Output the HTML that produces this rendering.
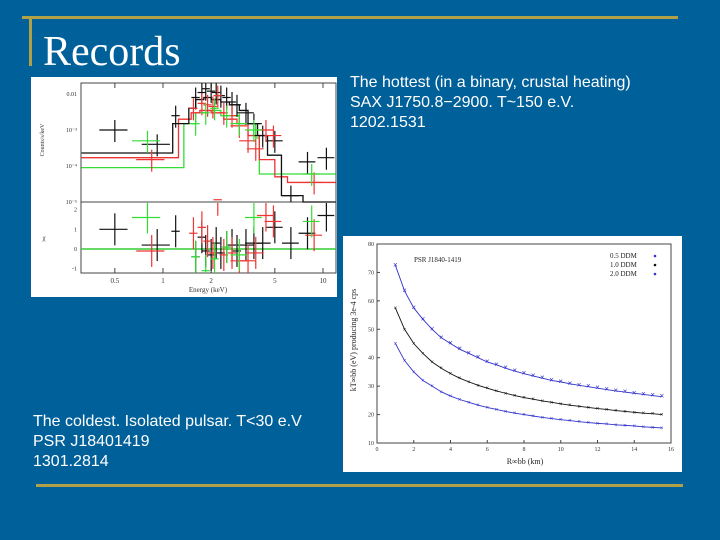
<!DOCTYPE html>
<html><head><meta charset="utf-8"><style>
body{margin:0;width:720px;height:540px;background:#00609a;position:relative;overflow:hidden;font-family:"Liberation Sans",sans-serif}
.t{position:absolute;color:#fff;font-size:16px;line-height:20px}
</style></head><body>
<div style="position:absolute;left:22px;top:16px;width:656px;height:3px;background:#b0a048"></div>
<div style="position:absolute;left:29px;top:16px;width:3px;height:50px;background:#b0a048"></div>
<div style="position:absolute;left:36px;top:484px;width:647px;height:3px;background:#b0a048"></div>
<div style="position:absolute;left:43px;top:28px;color:#fff;font-family:'Liberation Serif',serif;font-size:42px;line-height:48px">Records</div>
<div class="t" style="left:350px;top:73px">The hottest (in a binary, crustal heating)<br>SAX J1750.8−2900. T~150 e.V.<br>1202.1531</div>
<div class="t" style="left:33px;top:412px">The coldest. Isolated pulsar. T&lt;30 e.V<br>PSR J18401419<br>1301.2814</div>

<svg id="s1" style="position:absolute;left:0;top:0" width="720" height="540"></svg>
<script>
// spectrum data
const blkE=[0.5,0.92,1.2,1.6,1.75,1.85,2.0,2.15,2.3,2.5,2.7,2.9,3.3,3.7,4.2,5.0,6.3,8.0,10.5];
const blkC=[1e-3,4e-4,2.5e-3,8e-3,1.1e-2,1.4e-2,1.2e-2,1.1e-2,9e-3,8e-3,6e-3,5e-3,3e-3,1.5e-3,7e-4,5e-4,1.5e-5,1.3e-4,1.7e-4];
const blkX=[1,0.2,0.9,-0.4,0.6,-0.1,-0.3,0.3,-0.2,0.1,0.2,-0.1,0.2,0.3,0.3,1.1,0.3,0.8,1.7];
const redE=[0.85,1.55,1.75,1.9,2.05,2.2,2.4,2.7,3.0,3.4,3.8,4.4,4.9,8.8];
const redC=[1.5e-4,4e-3,5.5e-3,5e-3,4.5e-3,9e-3,3e-3,2.5e-3,1.3e-3,5e-4,3e-4,1e-3,7e-4,3.5e-5];
const redX=[-0.1,0.8,1.1,0.4,-0.2,2.5,-0.3,-0.2,-0.6,-0.6,-0.2,1.7,1.4,0.7];
const grnE=[0.8,1.6,1.85,2.1,2.5,3.0,3.7,8.5];
const grnC=[5e-4,1.5e-3,3e-3,4e-3,2.5e-3,1.5e-3,1e-3,6e-5];
const grnX=[1.6,-0.4,-1.1,-0.5,0.1,-0.3,1.6,1.4];
// step models
const blkME=[0.31,1.15,1.45,1.6,1.8,2.0,2.3,2.6,3.0,3.4,3.9,4.5,5.5,7.5,12];
const blkMV=[2.3e-4,1.5e-3,4e-3,7e-3,8e-3,7e-3,6e-3,5e-3,3.5e-3,1.5e-3,7e-4,2e-4,1.5e-5,1e-5];
const redME=[0.31,1.25,1.5,1.7,2.0,2.4,2.9,3.4,4.0,5.0,6.0,12];
const redMV=[1.7e-4,2e-3,3e-3,3.5e-3,3e-3,2e-3,1.5e-3,7e-4,1.5e-4,5e-5,3.5e-5];
const grnME=[0.31,1.35,1.6,1.9,2.3,3.0,3.8,4.0,12];
const grnMV=[9e-5,1.5e-3,3e-3,3.5e-3,2.5e-3,1.5e-3,6e-4,6e-5];
const eTicks=[0.5,1,2,5,10];
const cTicks=[0.01,1e-3,1e-4,1e-5];
const cTickLbl=["0.01","10⁻³","10⁻⁴","10⁻⁵"];
const xTicks=[2,1,0,-1];
// temperature data
const tempR=[1,1.5,2,2.5,3,3.5,4,4.5,5,5.5,6,6.5,7,7.5,8,8.5,9,9.5,10,10.5,11,11.5,12,12.5,13,13.5,14,14.5,15,15.5];
const t05=[72.5,63.5,57.5,53.5,50,47,45,43,41.5,40,38.5,37.5,36.3,35.3,34.4,33.6,32.8,32,31.5,30.8,30.3,29.8,29.3,28.8,28.3,27.9,27.5,27.1,26.7,26.3];
const t10=[57.5,50,45,41.5,38.5,36.3,34.4,32.8,31.5,30.3,29.3,28.3,27.5,26.7,26,25.4,24.8,24.3,23.8,23.3,22.9,22.5,22.1,21.8,21.4,21.1,20.8,20.5,20.3,20];
const t20=[45,39,35,32,30,28,26.5,25.3,24.3,23.3,22.5,21.8,21.1,20.5,20,19.5,19,18.6,18.2,17.9,17.5,17.2,16.9,16.7,16.4,16.2,16,15.7,15.5,15.3];
const rTicks=[0,2,4,6,8,10,12,14,16];
const tTicks=[10,20,30,40,50,60,70,80];

const svg=document.getElementById('s1');
const NS='http://www.w3.org/2000/svg';
function mk(tag,at,txt){const e=document.createElementNS(NS,tag);for(const k in at)e.setAttribute(k,at[k]);if(txt!==undefined)e.textContent=txt;svg.appendChild(e);return e;}
// left image
let bg=mk('rect',{x:31,y:77,width:306,height:220,fill:'#fff'});


const ex=E=>163+160*Math.log10(E);
const cy=C=>94+36*(-2-Math.log10(C));
const xy=v=>249-19.7*v;
let pf=mk('rect',{x:81,y:83,width:255,height:190,fill:'none',stroke:'#444','stroke-width':1});


mk('line',{x1:81,y1:202,x2:336,y2:202,stroke:'#444'});
eTicks.forEach(e=>{let x=ex(e);mk('line',{x1:x,y1:268,x2:x,y2:273,stroke:'#444'});mk('line',{x1:x,y1:83,x2:x,y2:88,stroke:'#444'});
let t=mk('text',{x:x,y:283,'font-size':7,'text-anchor':'middle','font-family':'Liberation Serif,serif',fill:'#333'},String(e));

});
cTicks.forEach((c,i)=>{let y=cy(c);let t=mk('text',{x:77,y:y+2,'font-size':6,'text-anchor':'end','font-family':'Liberation Serif,serif',fill:'#333'},cTickLbl[i]);

});
xTicks.forEach(v=>{let y=xy(v);let t=mk('text',{x:77,y:y+2,'font-size':6,'text-anchor':'end','font-family':'Liberation Serif,serif',fill:'#333'},String(v));

});
let xl=mk('text',{x:208,y:292,'font-size':7,'text-anchor':'middle','font-family':'Liberation Serif,serif',fill:'#333'},'Energy (keV)');


let yl=mk('text',{x:44,y:140,'font-size':6,'text-anchor':'middle','font-family':'Liberation Serif,serif',fill:'#333',transform:'rotate(-90 44 140)'},'Counts/s/keV');


let cl=mk('text',{x:44,y:240,'font-size':7,'text-anchor':'middle','font-family':'Liberation Serif,serif',fill:'#333'},'χ');


function model(E,V,col,name){
 let d='';
 V.forEach((v,i)=>{const y=Math.min(202,cy(v));const x1=Math.max(81,ex(E[i])),x2=Math.min(336,ex(E[i+1]));d+=(i?'L':'M')+x1+','+y+'L'+x2+','+y;});
 let p=mk('path',{d:d,fill:'none',stroke:col,'stroke-width':1.3});
 
 
}
model(grnME,grnMV,'#3d3','green');
model(redME,redMV,'#e33','red');
model(blkME,blkMV,'#111','black');
function series(E,C,X,col,name){
 E.forEach((e,i)=>{
  const w=e<1?0.2:e<3?0.06:0.12;
  const x1=Math.max(81,ex(e*(1-w))),x2=Math.min(336,ex(e*(1+w))),x=ex(e);
  const y=Math.min(202,cy(C[i]));
  const g=document.createElementNS(NS,'g');svg.appendChild(g);
  
  
  const add=(a)=>{const l=document.createElementNS(NS,'line');for(const k in a)l.setAttribute(k,a[k]);l.setAttribute('stroke',col);l.setAttribute('stroke-width',1.2);g.appendChild(l);};
  add({x1:x1,y1:y,x2:x2,y2:y});add({x1:x,y1:Math.max(83,y-10),x2:x,y2:Math.min(202,y+12)});
  const yx=xy(X[i]);
  add({x1:x1,y1:yx,x2:x2,y2:yx});add({x1:x,y1:Math.max(203,yx-16),x2:x,y2:Math.min(273,yx+16)});
 });
}
mk('line',{x1:81,y1:xy(0),x2:336,y2:xy(0),stroke:'#3c3','stroke-width':1.5});
series(blkE,blkC,blkX,'#111','black-data');
series(redE,redC,redX,'#e33','red-data');
series(grnE,grnC,grnX,'#3d3','green-data');

// right image
let bg2=mk('rect',{x:343,y:236,width:339,height:236,fill:'#fff'});


const rx=r=>377+r*(294/16);
const ty=t=>443-(t-10)*(199/70);
let pf2=mk('rect',{x:377,y:244,width:294,height:199,fill:'none',stroke:'#444'});


rTicks.forEach(r=>{mk('line',{x1:rx(r),y1:440,x2:rx(r),y2:443,stroke:'#444'});let t=mk('text',{x:rx(r),y:451,'font-size':6,'text-anchor':'middle','font-family':'Liberation Serif,serif',fill:'#333'},String(r));

});
tTicks.forEach(v=>{mk('line',{x1:377,y1:ty(v),x2:380,y2:ty(v),stroke:'#444'});let t=mk('text',{x:374,y:ty(v)+2,'font-size':6,'text-anchor':'end','font-family':'Liberation Serif,serif',fill:'#333'},String(v));

});
let rl=mk('text',{x:525,y:464,'font-size':8,'text-anchor':'middle','font-family':'Liberation Serif,serif',fill:'#222'},'R∞bb (km)');


let tl=mk('text',{x:356,y:340,'font-size':8,'text-anchor':'middle','font-family':'Liberation Serif,serif',fill:'#222',transform:'rotate(-90 356 340)'},'kT∞bb (eV) producing 3e-4 cps');


let pl=mk('text',{x:414,y:262,'font-size':7,'font-family':'Liberation Serif,serif',fill:'#222'},'PSR J1840-1419');


const legs=[['0.5 DDM','#33c'],['1.0 DDM','#111'],['2.0 DDM','#33c']];
legs.forEach((l,i)=>{let t=mk('text',{x:610,y:258+i*9,'font-size':7,'font-family':'Liberation Serif,serif',fill:'#222'},l[0]);


mk('circle',{cx:655,cy:256+i*9,r:1.3,fill:l[1]});});
function curve(T,col,name,sz){
 const pts=tempR.map((r,i)=>rx(r)+','+ty(T[i])).join(' ');
 let p=mk('polyline',{points:pts,fill:'none',stroke:col,'stroke-width':0.9});
 
 
 tempR.forEach((r,i)=>{let c=mk('text',{x:rx(r),y:ty(T[i])+2,'font-size':sz,'text-anchor':'middle',fill:col},'×');
 
 });
}
curve(t05,'#33c','d05',8);
curve(t10,'#111','d10',6);
curve(t20,'#33c','d20',6);
</script>
</body></html>
